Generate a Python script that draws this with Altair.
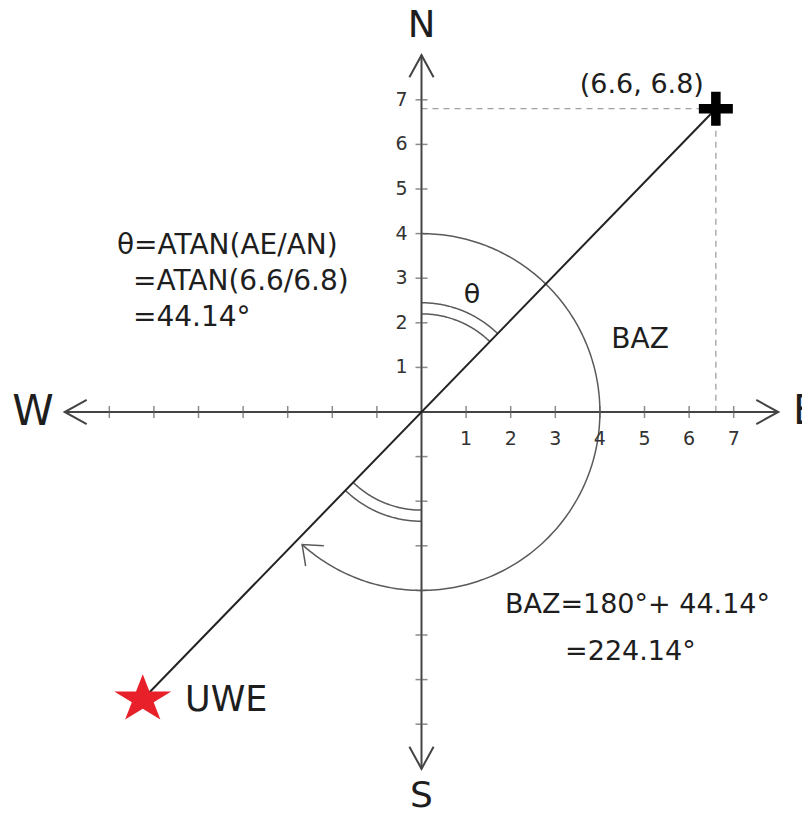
import math
import numpy as np
import pandas as pd
import altair as alt

# ---------------- values ----------------
axis_tick_values = [-7, -6, -5, -4, -3, -2, -1, 1, 2, 3, 4, 5, 6, 7]
axis_label_values = [1, 2, 3, 4, 5, 6, 7]
axis_extent = 8.0                       # arrow tips of the compass axes
ae_value, an_value = 6.6, 6.8           # plotted point (AE, AN)
theta_deg = 44.14
baz_deg = 224.14
baz_radius = 4.0
baz_arrow_deg = 222.0
theta_arc_radii = [2.2, 2.45]
star_x, star_y = -6.25, -6.44           # UWE station

compass_text = ["N", "S", "W"]
compass_x = [0.0, 0.0, -8.71]
compass_y = [8.66, -8.62, 0.0]
compass_fs = [37, 36, 42]

left_text = ["θ=ATAN(AE/AN)", "=ATAN(6.6/6.8)", "=44.14°",
             "BAZ=180°+ 44.14°", "=224.14°", "UWE", "E"]
left_x = [-6.83, -6.47, -6.47, 1.87, 3.22, -5.30, 8.33]
left_y = [3.72, 2.91, 2.11, -4.33, -5.38, -6.46, 0.0]
left_fs = [28, 28, 28, 27, 27, 35, 40]

center_text = ["(6.6, 6.8)", "θ", "BAZ"]
center_x = [4.94, 1.13, 4.90]
center_y = [7.33, 2.62, 1.61]
center_fs = [27, 27, 28]

# ---------------- layout ----------------
PX = 44.6                 # pixels per unit
W, H = 794, 804
OX, OY = 413.5, 404.0     # origin inside the plot area (px)
xdom = [-OX / PX, (W - OX) / PX]
ydom = [-(H - OY) / PX, OY / PX]
FONT = "DejaVu Sans"
INK = "#1e1e1e"
AXIS = "#444444"
ARC = "#5a5a5a"

xs = alt.Scale(domain=xdom, nice=False, zero=False)
ys = alt.Scale(domain=ydom, nice=False, zero=False)


def X(f):
    return alt.X(f, type="quantitative", scale=xs, axis=None)


def Y(f):
    return alt.Y(f, type="quantitative", scale=ys, axis=None)


# axes lines
axes_df = pd.DataFrame({
    "x": [-axis_extent, 0.0], "x2": [axis_extent, 0.0],
    "y": [0.0, -axis_extent], "y2": [0.0, axis_extent]})
axes = alt.Chart(axes_df).mark_rule(color=AXIS, strokeWidth=2).encode(
    x=X("x"), x2="x2", y=Y("y"), y2="y2")

# arrow heads (chevrons)
chev_axis = "M-1,-0.55L0,0L-1,0.55"
arrows_df = pd.DataFrame({
    "x": [axis_extent, -axis_extent, 0.0, 0.0],
    "y": [0.0, 0.0, axis_extent, -axis_extent],
    "a": [0, 180, 270, 90]})
arrows = alt.Chart(arrows_df).mark_point(
    shape=chev_axis, filled=False, size=1936, color=AXIS, strokeWidth=2,
    opacity=1).encode(x=X("x"), y=Y("y"), angle=alt.Angle("a:Q", scale=None))

# ticks
xt = alt.Chart(pd.DataFrame({"x": axis_tick_values, "y": 0.0})).mark_tick(
    orient="vertical", size=12, thickness=1.5, color=ARC).encode(x=X("x"), y=Y("y"))
yt = alt.Chart(pd.DataFrame({"y": axis_tick_values, "x": 0.0})).mark_tick(
    orient="horizontal", size=12, thickness=1.5, color=ARC).encode(x=X("x"), y=Y("y"))

# tick labels
xl = alt.Chart(pd.DataFrame({"x": axis_label_values, "y": 0.0,
                             "t": [str(v) for v in axis_label_values]})).mark_text(
    font=FONT, fontSize=19, color="#333", dy=27, align="center", baseline="middle").encode(
    x=X("x"), y=Y("y"), text="t:N")
yl = alt.Chart(pd.DataFrame({"y": axis_label_values, "x": 0.0,
                             "t": [str(v) for v in axis_label_values]})).mark_text(
    font=FONT, fontSize=19, color="#333", dx=-14, align="right", baseline="middle").encode(
    x=X("x"), y=Y("y"), text="t:N")

# dashed guide lines
dash_df = pd.DataFrame({"x": [0.0, ae_value], "x2": [ae_value, ae_value],
                        "y": [an_value, an_value], "y2": [an_value, 0.0]})
dashes = alt.Chart(dash_df).mark_rule(color="#a0a0a0", strokeWidth=1.3,
                                      strokeDash=[6, 5]).encode(
    x=X("x"), x2="x2", y=Y("y"), y2="y2")

# main line station -> point
main_df = pd.DataFrame({"x": [star_x], "y": [star_y], "x2": [ae_value], "y2": [an_value]})
main = alt.Chart(main_df).mark_rule(color="#222", strokeWidth=2).encode(
    x=X("x"), x2="x2", y=Y("y"), y2="y2")


# arcs
def arc_rows(name, r, a0, a1, n=90):
    a = np.radians(np.linspace(a0, a1, n))
    return pd.DataFrame({"arc": name, "i": np.arange(n),
                         "x": r * np.sin(a), "y": r * np.cos(a)})


arc_df = pd.concat([
    arc_rows("baz", baz_radius, 0.0, baz_arrow_deg, 200),
    arc_rows("t1", theta_arc_radii[0], 0.0, theta_deg),
    arc_rows("t2", theta_arc_radii[1], 0.0, theta_deg),
    arc_rows("b1", theta_arc_radii[0], 180.0, baz_deg),
    arc_rows("b2", theta_arc_radii[1], 180.0, baz_deg),
], ignore_index=True)
arcs = alt.Chart(arc_df).mark_line(color=ARC, strokeWidth=1.5).encode(
    x=X("x"), y=Y("y"), detail="arc:N", order="i:Q")

# arc arrow head
a_rad = math.radians(baz_arrow_deg)
arc_arrow_df = pd.DataFrame({"x": [baz_radius * math.sin(a_rad)],
                             "y": [baz_radius * math.cos(a_rad)],
                             "a": [baz_arrow_deg]})
arc_arrow = alt.Chart(arc_arrow_df).mark_point(
    shape="M-1,-0.8L0,0L-1,0.8", filled=False, size=1156, color=ARC,
    strokeWidth=1.5, opacity=1).encode(
    x=X("x"), y=Y("y"), angle=alt.Angle("a:Q", scale=None))

# plus marker
plus_path = ("M-1,-0.28L-0.28,-0.28L-0.28,-1L0.28,-1L0.28,-0.28L1,-0.28L1,0.28"
             "L0.28,0.28L0.28,1L-0.28,1L-0.28,0.28L-1,0.28Z")
plus = alt.Chart(pd.DataFrame({"x": [ae_value], "y": [an_value]})).mark_point(
    shape=plus_path, filled=True, size=1156, color="#000", opacity=1).encode(
    x=X("x"), y=Y("y"))

# star marker (slightly wide)
pts = []
for k in range(10):
    r = 1.0 if k % 2 == 0 else 0.382
    ang = math.radians(-90 + 36 * k)
    pts.append(f"{1.2 * r * math.cos(ang):.3f},{r * math.sin(ang):.3f}")
star_path = "M" + "L".join(pts) + "Z"
star = alt.Chart(pd.DataFrame({"x": [star_x], "y": [star_y]})).mark_point(
    shape=star_path, filled=True, size=2500, color="#e8202a", opacity=1).encode(
    x=X("x"), y=Y("y"))

# texts
compass = alt.Chart(pd.DataFrame({"t": compass_text, "x": compass_x, "y": compass_y,
                                  "fs": compass_fs})).mark_text(
    font=FONT, color=INK, align="center", baseline="middle").encode(
    x=X("x"), y=Y("y"), text="t:N", size=alt.Size("fs:Q", scale=None))
ltext = alt.Chart(pd.DataFrame({"t": left_text, "x": left_x, "y": left_y, "fs": left_fs})).mark_text(
    font=FONT, color=INK, align="left", baseline="middle").encode(
    x=X("x"), y=Y("y"), text="t:N", size=alt.Size("fs:Q", scale=None))
ctext = alt.Chart(pd.DataFrame({"t": center_text, "x": center_x, "y": center_y, "fs": center_fs})).mark_text(
    font=FONT, color=INK, align="center", baseline="middle").encode(
    x=X("x"), y=Y("y"), text="t:N", size=alt.Size("fs:Q", scale=None))

chart = alt.layer(
    dashes, arcs, arc_arrow, axes, arrows, xt, yt, main, xl, yl,
    plus, star, compass, ltext, ctext
).properties(
    width=W, height=H, padding=0, background="white",
    autosize=alt.AutoSizeParams(type="none")
).configure_view(strokeWidth=0)

chart.save("out.html", embed_options={"renderer": "svg", "actions": False})
